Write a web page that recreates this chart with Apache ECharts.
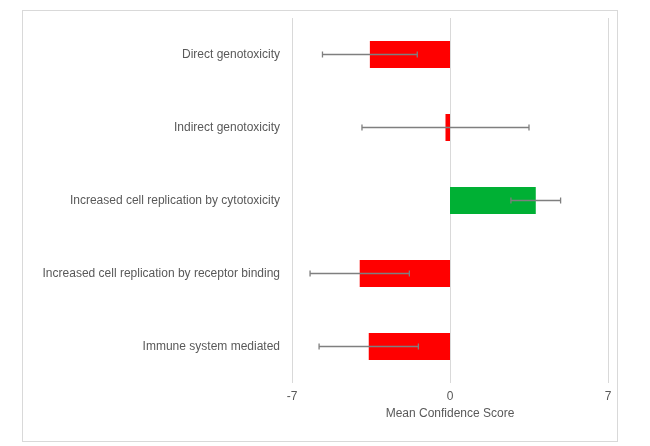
<!DOCTYPE html>
<html><head><meta charset="utf-8">
<script src="https://cdn.jsdelivr.net/npm/echarts@6/dist/echarts.min.js"></script>
<style>html,body{margin:0;background:#fff}#c{width:650px;height:446px}
#frame{position:absolute;left:22px;top:10px;width:594px;height:430px;border:1px solid #d9d9d9;pointer-events:none}</style>
</head><body><div id="c"></div><div id="frame"></div>
<script>
const rows = [
  { name: 'Direct genotoxicity', mean: -3.55, err: 2.1 },
  { name: 'Indirect genotoxicity', mean: -0.2, err: 3.7 },
  { name: 'Increased cell replication by cytotoxicity', mean: 3.8, err: 1.1 },
  { name: 'Increased cell replication by receptor binding', mean: -4.0, err: 2.2 },
  { name: 'Immune system mediated', mean: -3.6, err: 2.2 }
];
const cats = rows.map(r => r.name);
const chart = echarts.init(document.getElementById('c'));
chart.setOption({
  animation: false,
  grid: { left: 292, right: 42, top: 18, bottom: 63 },
  xAxis: { type: 'value', min: -7, max: 7, interval: 7, name: 'Mean Confidence Score',
    nameLocation: 'middle', nameGap: 22, nameTextStyle: { color: '#595959', fontSize: 12, fontFamily: 'Liberation Sans' },
    axisLabel: { color: '#595959', fontSize: 12, fontFamily: 'Liberation Sans', margin: 8 },
    splitLine: { lineStyle: { color: '#d9d9d9' } },
    axisLine: { show: false }, axisTick: { show: false } },
  yAxis: { type: 'category', data: cats, inverse: true,
    axisLabel: { color: '#595959', fontSize: 12, fontFamily: 'Liberation Sans', margin: 12 },
    axisLine: { show: false }, axisTick: { show: false } },
  series: [
    { type: 'bar', barWidth: 27,
      data: rows.map(r => ({ value: r.mean, itemStyle: { color: r.mean >= 0 ? '#00b034' : '#ff0000' } })) },
    { type: 'custom', z: 10,
      data: rows.map((r, i) => [i, r.mean - r.err, r.mean + r.err]),
      renderItem: (params, api) => {
        const a = api.coord([api.value(1), api.value(0)]);
        const b = api.coord([api.value(2), api.value(0)]);
        const st = { stroke: '#7f7f7f', lineWidth: 1.3 };
        return { type: 'group', children: [
          { type: 'line', shape: { x1: a[0], y1: a[1], x2: b[0], y2: b[1] }, style: st },
          { type: 'line', shape: { x1: a[0], y1: a[1] - 3, x2: a[0], y2: a[1] + 3 }, style: st },
          { type: 'line', shape: { x1: b[0], y1: b[1] - 3, x2: b[0], y2: b[1] + 3 }, style: st }
        ] };
      } }
  ]
});
</script></body></html>
